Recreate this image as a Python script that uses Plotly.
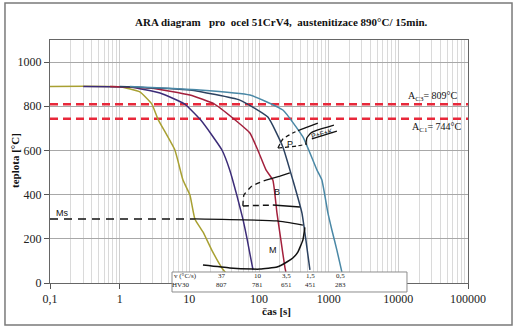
import math
import plotly.graph_objects as go

# Cooling curves (time [s], temperature [°C])
olive_t = [0.1, 1.0, 1.95, 2.9, 3.54, 6.2, 8.1, 10.2, 12.0, 15.7, 21, 29.4, 33.5]
olive_T = [890, 888, 865, 810, 742, 602, 466, 398, 290, 231, 149, 68, 45]

navy_t = [0.3, 1.4, 3.8, 8.6, 14.2, 21, 29.4, 38, 48, 58.7, 67, 82]
navy_T = [890, 887, 860, 810, 742, 670, 602, 512, 398, 290, 204, 59]

red_t = [0.73, 2.7, 10.2, 23, 42, 74, 96, 126, 158, 181, 206, 235, 243]
red_T = [890, 883, 851, 810, 747, 679, 602, 512, 466, 317, 195, 72, 50]

slate_t = [1.0, 10.2, 53, 134, 220, 306, 413, 471, 538]
slate_T = [890, 874, 828, 751, 616, 466, 317, 195, 59]

teal_t = [1.4, 14, 74, 220, 427, 678, 799, 975, 1112, 1312, 1546]
teal_T = [890, 874, 851, 783, 661, 512, 466, 317, 240, 149, 50]

# Critical temperatures
ac3 = 809
ac1 = 744

# Martensite start
ms_dash_t = [0.1, 12.0]
ms_dash_T = [290, 290]
ms_solid_t = [12.0, 181, 427]
ms_solid_T = [290, 281, 262]

# Martensite finish
mf_t = [15.7, 38, 82, 103, 181, 251, 306, 361, 427, 455]
mf_T = [81, 68, 63, 63, 72, 95, 113, 140, 195, 252]

# Bainite region
b_start_dash_t = [58.7, 60.7, 79, 126]
b_start_dash_T = [349, 398, 439, 466]
b_start_t = [126, 200, 277]
b_start_T = [466, 484, 498]
b_low_dash_t = [58.7, 158]
b_low_dash_T = [349, 353]
b_low_t = [158, 386]
b_low_T = [353, 344]

# Pearlite region
p_up_dash_t = [187, 220, 306, 386]
p_up_dash_T = [611, 652, 679, 693]
p_up_t = [386, 700]
p_up_T = [693, 724]
p_low_dash_t = [187, 350, 486]
p_low_dash_T = [611, 620, 629]
pfk_hook_t = [471, 486, 556, 700, 1188]
pfk_hook_T = [629, 656, 679, 693, 715]
pfk_low_t = [574, 1312]
pfk_low_T = [652, 688]

# Table below the curves
rates = ["37", "10", "3,5", "1,5", "0,5"]
hardness = ["807", "781", "651", "451", "283"]
label_t = [29.4, 96, 251, 556, 1496]

x_ticks = [0.1, 1, 10, 100, 1000, 10000, 100000]
x_ticktext = ["0,1", "1", "10", "100", "1000", "10000", "100000"]
y_ticks = [0, 200, 400, 600, 800, 1000]

SERIF = "Liberation Serif"
SANS = "Liberation Sans"
INK = "#111111"

fig = go.Figure()


def line(t, T, color, width=1.5, dash="solid"):
    fig.add_trace(go.Scatter(x=t, y=T, mode="lines", hoverinfo="skip",
                             line=dict(color=color, width=width, dash=dash,
                                       shape="spline", smoothing=0.4)))


def straight(t, T, color=INK, width=1.3, dash="solid"):
    fig.add_trace(go.Scatter(x=t, y=T, mode="lines", hoverinfo="skip",
                             line=dict(color=color, width=width, dash=dash)))


# Transformation temperatures
straight([0.1, 100000], [ac3, ac3], "#e8283a", 2.5, "8px,5px")
straight([0.1, 100000], [ac1, ac1], "#e8283a", 2.5, "8px,5px")

# Cooling curves
line(olive_t, olive_T, "#a8a032")
line(navy_t, navy_T, "#3c2c78")
line(red_t, red_T, "#a3203c")
line(slate_t, slate_T, "#2c4260")
line(teal_t, teal_T, "#4a88a6")

# Structure boundaries
straight(ms_dash_t, ms_dash_T, INK, 1.5, "8px,6px")
line(ms_solid_t, ms_solid_T, INK, 1.3)
line(mf_t, mf_T, INK, 1.5)
line(b_start_dash_t, b_start_dash_T, INK, 1.3, "5px,4px")
line(b_start_t, b_start_T, INK, 1.3)
straight(b_low_dash_t, b_low_dash_T, INK, 1.5, "6px,4px")
straight(b_low_t, b_low_T, INK, 1.3)
line(p_up_dash_t, p_up_dash_T, INK, 1.2, "4px,3px")
straight(p_up_t, p_up_T, INK, 1.3)
line(p_low_dash_t, p_low_dash_T, INK, 1.2, "4px,3px")
line(pfk_hook_t, pfk_hook_T, INK, 1.3)
straight(pfk_low_t, pfk_low_T, INK, 1.3)

minor_vals = [m * 10 ** e for e in range(-1, 5) for m in range(2, 10)]


def note(text, x, y, ref="paper", size=10, family=SERIF, color=INK, angle=0):
    return dict(text=text, x=x, y=y, xref=ref if ref == "paper" else "x",
                yref=ref if ref == "paper" else "y", showarrow=False,
                xanchor="center", yanchor="middle", textangle=angle,
                font=dict(family=family, size=size, color=color))


annotations = [
    note("<b>ARA diagram   pro  ocel 51CrV4,  austenitizace 890°C/ 15min.</b>", 0.555, 1.074, size=11),
    note("<b>teplota [°C]</b>", -0.084, 0.506, size=11, angle=-90),
    note("<b>čas [s]</b>", 0.543, -0.115, size=11),
    note("A<sub>C3</sub>= 809°C", 4.495, 842, ref="data"),
    note("A<sub>C1</sub>= 744°C", 4.552, 702, ref="data"),
    note("Ms", -0.828, 317, ref="data", size=9, family=SANS),
    note("P", 2.443, 629, ref="data", size=9, family=SANS),
    note("B", 2.257, 412, ref="data", size=9, family=SANS),
    note("M", 2.199, 149, ref="data", size=9, family=SANS),
    note("P+F+K", 2.902, 676, ref="data", size=7, family=SANS, angle=-15),
    note("v (°C/s)", 0.323, 0.029, size=7, color="#222222"),
    note("HV30", 0.313, -0.008, size=7, color="#222222"),
]
for r, h, t in zip(rates, hardness, label_t):
    xp = (math.log10(t) + 1) / 6
    annotations.append(note(r, xp, 0.029, size=7, color="#222222"))
    annotations.append(note(h, xp, -0.008, size=7, color="#222222"))

shapes = [
    # table box
    dict(type="rect", xref="paper", yref="paper", x0=0.2919, x1=0.854, y0=-0.037, y1=0.0453,
         fillcolor="white", line=dict(color="#8c8c8c", width=1), layer="above"),
    # outer frame
    dict(type="rect", xref="paper", yref="paper", x0=-0.1077, x1=1.1053, y0=-0.1728, y1=1.1523,
         line=dict(color="#7a7a7a", width=1.5), layer="above"),
]

fig.update_layout(
    width=515, height=334,
    margin=dict(l=50, r=47, t=40, b=51),
    paper_bgcolor="white", plot_bgcolor="white",
    showlegend=False,
    annotations=annotations,
    shapes=shapes,
    xaxis=dict(type="log", range=[-1, 5], tickvals=x_ticks, ticktext=x_ticktext,
               ticks="outside", ticklen=5, tickcolor="#555555",
               showline=True, linecolor="#666666", linewidth=1, mirror=True,
               showgrid=True, gridcolor="#cfcfcf", gridwidth=1,
               minor=dict(tickvals=minor_vals, showgrid=True, gridcolor="#dadada", ticks=""),
               tickfont=dict(family=SERIF, size=12, color="#222222"), zeroline=False),
    yaxis=dict(range=[0, 1100], tickvals=y_ticks, ticks="outside", ticklen=5,
               tickcolor="#555555", showline=True, linecolor="#666666", linewidth=1,
               mirror=True, showgrid=True, gridcolor="#a8a8a8", gridwidth=1,
               tickfont=dict(family=SERIF, size=12, color="#222222"), zeroline=False),
)

fig.write_html("out.html")
